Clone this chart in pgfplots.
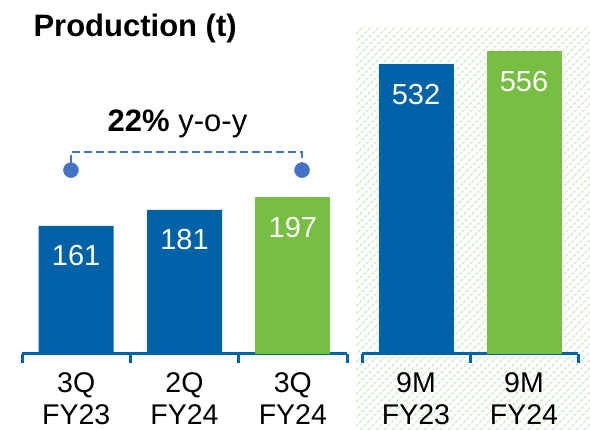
\documentclass[border=0pt]{standalone}
\usepackage{pgfplots}
\pgfplotsset{compat=1.18}
\usepackage{fontspec}
\setmainfont{Liberation Sans}
\definecolor{barblue}{RGB}{0,98,166}
\definecolor{bargreen}{RGB}{119,190,67}
\definecolor{dashblue}{RGB}{68,114,196}
\definecolor{hatchc}{RGB}{210,231,196}
\newcommand{\lblfont}{\fontsize{28.5}{32}\selectfont}
\newcommand{\valfont}{\fontsize{29}{32}\selectfont}
\pgfplotsset{mybars/.style={
  scale only axis, height=320pt, ymin=0,
  axis y line=none, ytick=\empty,
  axis x line=bottom,
  axis line style={-, barblue, line width=3pt},
  xticklabels={},
  tick align=outside, major tick length=9pt,
  every tick/.style={barblue, line width=3pt},
  ybar, bar width=75pt, clip=false,
  /pgf/number format/assume math mode=true,
}}
\pgfplotsset{valnodes/.style={nodes near coords,
  every node near coord/.append style={anchor=center, yshift=-30pt, text=white, font=\valfont, /pgf/number format/assume math mode=true}}}
\begin{document}
\begin{tikzpicture}
\path[use as bounding box] (0pt,0pt) rectangle (590pt,430pt);
\begin{scope}
\clip (356pt,0pt) rectangle (590pt,403pt);
\foreach \i in {-440,-432,...,600} \draw[hatchc, line width=1.4pt, dash pattern=on 3.5pt off 1.5pt] (\i pt,0pt) -- ++(450pt,450pt);
\end{scope}
\node[anchor=base west, font=\bfseries\fontsize{31}{31}\selectfont] at (30pt,393pt) {Production (t)};
\node[anchor=base, font=\fontsize{31}{31}\selectfont] at (177.5pt,298pt) {\textbf{22\%} y-o-y};
% left group
\begin{axis}[mybars, at={(22pt,76pt)}, anchor=south west, width=325pt,
  xmin=0.5, xmax=3.5, ymax=402, xtick={0.5,1.5,2.5,3.5}]
\addplot[fill=barblue, draw=none, bar shift=0pt, valnodes] coordinates {(1,161) (2,181)};
\addplot[fill=bargreen, draw=none, bar shift=0pt, valnodes] coordinates {(3,197)};
\addplot[dashblue, line width=2pt, dash pattern=on 8pt off 4pt, sharp plot, mark=none] coordinates {(0.955,240) (0.955,254) (3.085,254) (3.085,240)};
\addplot[only marks, mark=*, mark size=7.5pt, dashblue, fill=dashblue] coordinates {(0.952,231) (3.085,231)};
\node[anchor=base, font=\lblfont, yshift=-39pt] at (axis cs:1,0) {3Q};
\node[anchor=base, font=\lblfont, yshift=-71pt] at (axis cs:1,0) {FY23};
\node[anchor=base, font=\lblfont, yshift=-39pt] at (axis cs:2,0) {2Q};
\node[anchor=base, font=\lblfont, yshift=-71pt] at (axis cs:2,0) {FY24};
\node[anchor=base, font=\lblfont, yshift=-39pt] at (axis cs:3,0) {3Q};
\node[anchor=base, font=\lblfont, yshift=-71pt] at (axis cs:3,0) {FY24};
\end{axis}
% right group
\begin{axis}[mybars, at={(362pt,76pt)}, anchor=south west, width=216pt,
  xmin=0.5, xmax=2.5, ymax=588, xtick={0.5,1.5,2.5}]
\addplot[fill=barblue, draw=none, bar shift=0pt, valnodes] coordinates {(1,532)};
\addplot[fill=bargreen, draw=none, bar shift=0pt, valnodes] coordinates {(2,556)};
\node[anchor=base, font=\lblfont, yshift=-39pt] at (axis cs:1,0) {9M};
\node[anchor=base, font=\lblfont, yshift=-71pt] at (axis cs:1,0) {FY23};
\node[anchor=base, font=\lblfont, yshift=-39pt] at (axis cs:2,0) {9M};
\node[anchor=base, font=\lblfont, yshift=-71pt] at (axis cs:2,0) {FY24};
\end{axis}
\end{tikzpicture}
\end{document}
